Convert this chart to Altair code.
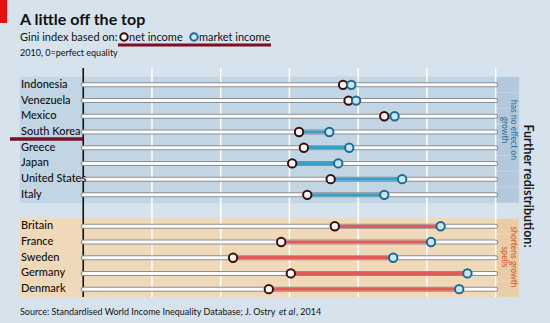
import altair as alt
import pandas as pd

# ---- data ----
top_countries = ["Indonesia", "Venezuela", "Mexico", "South Korea", "Greece", "Japan", "United States", "Italy"]
top_net = [37.8, 38.6, 43.8, 31.4, 32.1, 30.4, 36.0, 32.6]
top_market = [39.0, 39.7, 45.3, 35.8, 38.7, 37.1, 46.4, 43.8]

bottom_countries = ["Britain", "France", "Sweden", "Germany", "Denmark"]
bottom_net = [36.6, 28.8, 21.8, 30.2, 27.0]
bottom_market = [52.0, 50.6, 45.1, 55.9, 54.7]

ticks = [0, 10, 20, 30, 40, 50, 60]
SPACER = " "

rows = []
for c, n, m in zip(top_countries, top_net, top_market):
    rows.append({"country": c, "net": n, "market": m, "group": "top"})
for c, n, m in zip(bottom_countries, bottom_net, bottom_market):
    rows.append({"country": c, "net": n, "market": m, "group": "bottom"})
df = pd.DataFrame(rows)
order = top_countries + [SPACER] + bottom_countries
grid_df = pd.DataFrame({"tick": ticks[1:]})
zero_df = pd.DataFrame({"tick": [0]})

FONT = "Lato"
BG = "#d6e3ed"
XMIN, XMAX = -9.2, 63.4

W, H = 499, 229
xs = alt.Scale(domain=[XMIN, XMAX], nice=False, zero=False)
ys = alt.Scale(domain=order, range=[9, H], paddingInner=0, paddingOuter=0)

X = lambda f: alt.X(f, type="quantitative", scale=xs, axis=None)
Y = alt.Y("country:N", scale=ys, axis=None)

base = alt.Chart(df)

panel_color = alt.Color("group:N", scale=alt.Scale(domain=["top", "bottom"], range=["#c1d5e5", "#efd9b8"]), legend=None)
strip_color = alt.Color("group:N", scale=alt.Scale(domain=["top", "bottom"], range=["#b3c9db", "#e8cda6"]), legend=None)

panel = base.mark_rect(strokeWidth=0.8).encode(
    x=alt.datum(XMIN, scale=xs), x2=alt.datum(60), y=Y, color=panel_color, stroke=panel_color
)
strip = base.mark_rect(strokeWidth=0.8).encode(
    x=alt.datum(60, scale=xs), x2=alt.datum(XMAX), y=Y, fill=strip_color, stroke=strip_color
)

grid = alt.Chart(grid_df).mark_rule(color="white", strokeWidth=1.5).encode(
    x=alt.X("tick:Q", scale=xs, axis=alt.Axis(orient="top", values=ticks, grid=False, ticks=False, domain=False,
                                               labelFont=FONT, labelFontSize=11, labelColor="#111",
                                               labelPadding=2, title=None, labelAngle=0))
)
zero = alt.Chart(zero_df).mark_rule(color="#111", strokeWidth=1.6).encode(x=alt.X("tick:Q", scale=xs))

track_outer = base.mark_rule(color="#8e8e8e", strokeWidth=5, strokeCap="round").encode(
    x=alt.datum(0, scale=xs), x2=alt.datum(60), y=Y
)
track_inner = base.mark_rule(color="#fbfbfb", strokeWidth=3, strokeCap="round").encode(
    x=alt.datum(0, scale=xs), x2=alt.datum(60), y=Y
)
seg = base.mark_rule(strokeWidth=3.2).encode(
    x=X("net"), x2="market", y=Y,
    color=alt.Color("group:N", scale=alt.Scale(domain=["top", "bottom"], range=["#3a9ec6", "#e25b52"]), legend=None),
)
net_pts = base.mark_point(filled=True, size=70, fill="#fdf8f3", stroke="#3a0d10", strokeWidth=2, opacity=1).encode(
    x=X("net"), y=Y
)
mkt_pts = base.mark_point(filled=True, size=70, fill="#c8e7f4", stroke="#1d6b93", strokeWidth=2, opacity=1).encode(
    x=X("market"), y=Y
)
labels = base.mark_text(align="left", baseline="middle", font=FONT, fontSize=11, fontWeight=500, color="#111").encode(
    x=alt.value(1), y=Y, text="country:N"
)
korea_line = alt.Chart(df[df["country"] == "South Korea"]).mark_rule(color="#7a0f26", strokeWidth=3.5, yOffset=7).encode(
    x=alt.datum(0, scale=xs), x2=alt.value(-10), y=Y
)

one = alt.Chart(pd.DataFrame({"a": [0]}))
red_box = one.mark_rect(color="#e3120b").encode(x=alt.value(-20), x2=alt.value(-13), y=alt.value(-68), y2=alt.value(-45))
title = one.mark_text(align="left", baseline="alphabetic", font=FONT, fontSize=16, fontWeight="bold", color="#111").encode(
    x=alt.value(0), y=alt.value(-43), text=alt.value("A little off the top"))
sub = one.mark_text(align="left", baseline="alphabetic", font=FONT, fontSize=11, color="#111").encode(
    x=alt.value(0), y=alt.value(-27), text=alt.value("Gini index based on:"))
leg_net_pt = one.mark_point(filled=True, size=55, fill="#fdf8f3", stroke="#3a0d10", strokeWidth=2, opacity=1).encode(
    x=alt.value(104), y=alt.value(-31))
leg_net_tx = one.mark_text(align="left", baseline="alphabetic", font=FONT, fontSize=11, color="#111").encode(
    x=alt.value(109), y=alt.value(-27), text=alt.value("net income"))
leg_mkt_pt = one.mark_point(filled=True, size=55, fill="#c8e7f4", stroke="#1d6b93", strokeWidth=2, opacity=1).encode(
    x=alt.value(174), y=alt.value(-31))
leg_mkt_tx = one.mark_text(align="left", baseline="alphabetic", font=FONT, fontSize=11, color="#111").encode(
    x=alt.value(179), y=alt.value(-27), text=alt.value("market income"))
underline = one.mark_rule(color="#7a0f26", strokeWidth=3).encode(
    x=alt.value(98), x2=alt.value(251), y=alt.value(-23))
sub2 = one.mark_text(align="left", baseline="alphabetic", font=FONT, fontSize=9, color="#111").encode(
    x=alt.value(0), y=alt.value(-12), text=alt.value("2010, 0=perfect equality"))

further = one.mark_text(align="center", baseline="middle", angle=90, font=FONT, fontSize=12.5, fontWeight="bold", color="#1a1a1a").encode(
    x=alt.value(508), y=alt.value(118), text=alt.value("Further redistribution:"))
no_effect = one.mark_text(align="center", baseline="middle", angle=90, font=FONT, fontSize=8.5, lineHeight=9.5, color="#2a6c96").encode(
    x=alt.value(494), y=alt.value(62), text=alt.value(["has no effect on", "growth"]))
shortens = one.mark_text(align="center", baseline="middle", angle=90, font=FONT, fontSize=8.5, lineHeight=9.5, color="#d4552b").encode(
    x=alt.value(494), y=alt.value(189), text=alt.value(["shortens growth", "spells"]))

src1 = one.mark_text(align="left", baseline="alphabetic", font=FONT, fontSize=9, color="#111").encode(
    x=alt.value(0), y=alt.value(247), text=alt.value("Source: Standardised World Income Inequality Database; J. Ostry"))
src2 = one.mark_text(align="left", baseline="alphabetic", font=FONT, fontSize=9, fontStyle="italic", color="#111").encode(
    x=alt.value(259), y=alt.value(247), text=alt.value("et al"))
src3 = one.mark_text(align="left", baseline="alphabetic", font=FONT, fontSize=9, color="#111").encode(
    x=alt.value(276), y=alt.value(247), text=alt.value(", 2014"))

chart = alt.layer(
    panel, strip, grid, zero, track_outer, track_inner, seg, net_pts, mkt_pts, labels, korea_line,
    red_box, title, sub, leg_net_pt, leg_net_tx, leg_mkt_pt, leg_mkt_tx, underline, sub2,
    further, no_effect, shortens, src1, src2, src3,
).resolve_scale(color="independent").properties(
    width=W, height=H,
    autosize=alt.AutoSizeParams(type="none"),
    padding={"left": 20, "top": 68, "right": 31, "bottom": 26},
    background=BG,
).configure_view(stroke=None)

chart.save("out.html", embed_options={"renderer": "svg", "actions": False})
